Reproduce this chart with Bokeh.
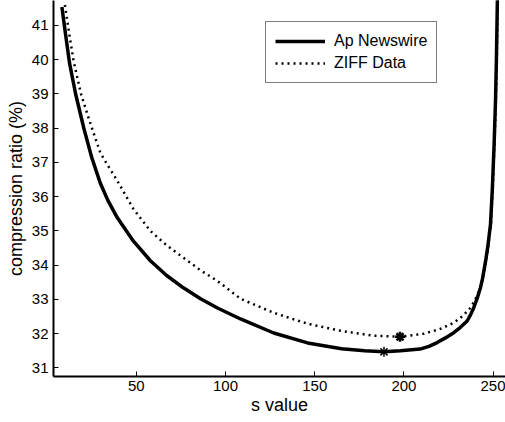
from bokeh.plotting import figure
from bokeh.models import Range1d, FixedTicker, Legend, LegendItem
from bokeh.embed import file_html
from bokeh.resources import INLINE

# --- data ---
ap_s = [8.3, 10.2, 12.6, 16.0, 20.6, 25, 29.8, 34, 39.3, 48.3, 57.9, 67, 76.4, 86, 95.5,
        108.4, 127, 146, 165, 178, 188.8, 198, 209, 214, 218.6, 223, 227.9, 231.5, 235.4,
        237.3, 239.1, 241, 242.9, 244, 245, 246, 247, 248.5, 249.5, 250.5, 251.3, 251.8, 252.4]
ap_ratio = [41.54, 40.8, 39.9, 39.0, 38.0, 37.15, 36.4, 35.9, 35.39, 34.71, 34.13, 33.7,
            33.34, 33.02, 32.75, 32.43, 32.02, 31.73, 31.56, 31.5, 31.47, 31.5, 31.55, 31.63,
            31.74, 31.87, 32.03, 32.18, 32.37, 32.55, 32.76, 33.03, 33.35, 33.6, 33.9, 34.2,
            34.55, 35.2, 36.2, 37.5, 38.8, 40.0, 41.9]

ziff_s = [10, 12, 14.8, 19, 24.5, 29.8, 33, 39.3, 48.3, 57.9, 67, 76.4, 86, 95.5, 108.4,
          127, 146, 165, 183, 197.8, 211, 220, 228, 233, 237.3, 240, 243, 245.2, 247.2,
          248.7, 249.7, 250.7, 251.5, 252, 252.6]
ziff_ratio = [41.6, 40.9, 39.98, 39.0, 38.1, 37.29, 37.0, 36.47, 35.65, 35.0, 34.58, 34.22,
              33.85, 33.54, 33.02, 32.61, 32.29, 32.08, 31.94, 31.91, 32.0, 32.13, 32.32,
              32.52, 32.76, 33.0, 33.35, 33.9, 34.55, 35.2, 36.2, 37.5, 38.8, 40.0, 41.9]

ap_min = (188.8, 31.47)
ziff_min = (197.8, 31.91)

x_ticks = [50, 100, 150, 200, 250]
y_ticks = [31, 32, 33, 34, 35, 36, 37, 38, 39, 40, 41]

series_names = ["Ap Newswire", "ZIFF Data"]

FONT = "Liberation Sans"

p = figure(width=505, height=422, output_backend="svg", toolbar_location=None,
           x_range=Range1d(3.6, 256.9), y_range=Range1d(30.75, 41.73),
           min_border_left=53, min_border_right=0, min_border_top=0, min_border_bottom=46)
p.grid.visible = False
p.outline_line_color = None
p.background_fill_color = "white"
p.border_fill_color = "white"

r_ap = p.line(ap_s, ap_ratio, line_color="black", line_width=3.5, line_join="round")
r_ziff = p.line(ziff_s, ziff_ratio, line_color="black", line_width=2.5, line_dash="2 4")
p.scatter([ap_min[0]], [ap_min[1]], marker="asterisk", size=10, line_color="black", line_width=1.5)
p.scatter([ziff_min[0]], [ziff_min[1]], marker="asterisk", size=10, line_color="black", line_width=2.5)

for ax in (p.xaxis[0], p.yaxis[0]):
    ax.axis_line_color = "black"
    ax.axis_line_width = 2
    ax.major_tick_in = 5
    ax.major_tick_out = 0
    ax.major_tick_line_color = "black"
    ax.major_tick_line_width = 1
    ax.minor_tick_line_color = None
    ax.major_label_text_font = FONT
    ax.major_label_text_font_size = "15px"
    ax.major_label_text_color = "black"
    ax.axis_label_text_font = FONT
    ax.axis_label_text_font_size = "18px"
    ax.axis_label_text_font_style = "normal"
    ax.axis_label_text_color = "black"

p.xaxis[0].ticker = FixedTicker(ticks=x_ticks)
p.yaxis[0].ticker = FixedTicker(ticks=y_ticks)
p.xaxis[0].axis_label = "s value"
p.yaxis[0].axis_label = "compression ratio (%)"
p.xaxis[0].major_label_standoff = 4
p.yaxis[0].major_label_standoff = 5
p.xaxis[0].axis_label_standoff = 1
p.yaxis[0].axis_label_standoff = 3

legend = Legend(items=[LegendItem(label=series_names[0], renderers=[r_ap]),
                       LegendItem(label=series_names[1], renderers=[r_ziff])],
                location=(212, 293))
legend.label_text_font = FONT
legend.label_text_font_size = "16px"
legend.label_text_color = "black"
legend.label_height = 20
legend.glyph_height = 20
legend.glyph_width = 50
legend.label_standoff = 9
legend.padding = 9
legend.spacing = 2
legend.margin = 0
legend.border_line_color = "black"
legend.border_line_width = 1.5
legend.background_fill_color = "white"
legend.background_fill_alpha = 1
p.add_layout(legend)

open("out.html", "w").write(file_html(p, INLINE))
